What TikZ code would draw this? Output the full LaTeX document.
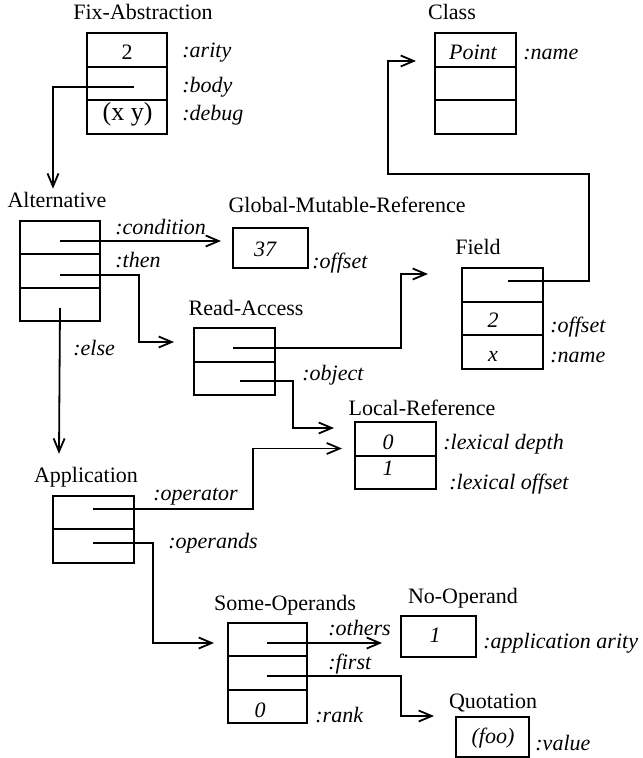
\documentclass[tikz,border=0pt]{standalone}
\usepackage{fontspec}
\setmainfont{Liberation Serif}
\usetikzlibrary{arrows.meta,calc}
\begin{document}
\begin{tikzpicture}[x=0.5pt,y=-0.5pt,
  every node/.style={font=\fontsize{11pt}{13pt}\selectfont},
  cell/.style={draw,line width=1pt,inner sep=0pt,minimum height=16.75pt},
  title/.style={anchor=base,inner sep=0pt},
  val/.style={anchor=base,inner sep=0pt,font=\fontsize{11pt}{13pt}\selectfont\itshape},
  uval/.style={anchor=base,inner sep=0pt},
  slot/.style={anchor=base west,inner sep=0pt,font=\fontsize{11pt}{13pt}\selectfont\itshape},
  ptr/.style={line width=0.9pt,-{Straight Barb[length=6.5pt,width=5.5pt,line width=0.9pt]}}
]
\useasboundingbox (0,0) rectangle (642,758);

% ---- Fix-Abstraction ----
\node[title] (fa-t) at (143,20) {Fix-Abstraction};
\node[cell,minimum width=40pt] (fa1) at (127,50) {};
\node[cell,minimum width=40pt] (fa2) at (127,83.5) {};
\node[cell,minimum width=40pt] (fa3) at (127,117) {};
\node[uval] (fa-v1) at (127,60) {2};
\node[uval,font=\fontsize{13pt}{15pt}\selectfont] (fa-v3) at (127.5,121) {(x y)};
\node[slot] (fa-l1) at (182,58) {:arity};
\node[slot] (fa-l2) at (182,93) {:body};
\node[slot] (fa-l3) at (182,121) {:debug};

% ---- Class ----
\node[title] (cls-t) at (452,20) {Class};
\node[cell,minimum width=40.5pt] (cls1) at (475.5,50) {};
\node[cell,minimum width=40.5pt] (cls2) at (475.5,83.5) {};
\node[cell,minimum width=40.5pt] (cls3) at (475.5,117) {};
\node[val] (cls-v1) at (473,60) {Point};
\node[slot] (cls-l1) at (523,60) {:name};

% ---- Alternative ----
\node[title] (alt-t) at (57,208) {Alternative};
\node[cell,minimum width=40pt] (alt1) at (60,237.5) {};
\node[cell,minimum width=40pt] (alt2) at (60,271) {};
\node[cell,minimum width=40pt] (alt3) at (60,304.5) {};
\node[slot] (alt-l1) at (115,235) {:condition};
\node[slot] (alt-l2) at (115,268) {:then};
\node[slot] (alt-l3) at (73,355) {:else};

% ---- Global-Mutable-Reference ----
\node[title] (glob-t) at (347,213) {Global-Mutable-Reference};
\node[cell,minimum width=37.5pt,minimum height=20pt] (glob) at (270.5,248) {};
\node[val] (glob-v) at (265,257) {37};
\node[slot] (glob-l) at (312,269) {:offset};

% ---- Read-Access ----
\node[title] (ra-t) at (246,315) {Read-Access};
\node[cell,minimum width=40.5pt] (ra1) at (234.5,345) {};
\node[cell,minimum width=40.5pt] (ra2) at (234.5,378.5) {};
\node[slot] (ra-l2) at (302,380) {:object};

% ---- Field ----
\node[title] (fld-t) at (478,255) {Field};
\node[cell,minimum width=40.5pt] (fld1) at (502.5,285) {};
\node[cell,minimum width=40.5pt] (fld2) at (502.5,318.5) {};
\node[cell,minimum width=40.5pt] (fld3) at (502.5,352) {};
\node[val] (fld-v2) at (493,328) {2};
\node[val] (fld-v3) at (493,361) {x};
\node[slot] (fld-l2) at (550,333) {:offset};
\node[slot] (fld-l3) at (550,362) {:name};

% ---- Local-Reference ----
\node[title] (loc-t) at (422,415) {Local-Reference};
\node[cell,minimum width=40.5pt] (loc1) at (395.5,439) {};
\node[cell,minimum width=40.5pt] (loc2) at (395.5,472.5) {};
\node[val] (loc-v1) at (388,449) {0};
\node[val] (loc-v2) at (388,475) {1};
\node[slot] (loc-l1) at (443,449) {:lexical depth};
\node[slot] (loc-l2) at (449,489) {:lexical offset};

% ---- Application ----
\node[title] (app-t) at (86,482) {Application};
\node[cell,minimum width=40.5pt] (app1) at (93.5,512.5) {};
\node[cell,minimum width=40.5pt] (app2) at (93.5,546) {};
\node[slot] (app-l1) at (153,500) {:operator};
\node[slot] (app-l2) at (168,548) {:operands};

% ---- Some-Operands ----
\node[title] (so-t) at (285,610) {Some-Operands};
\node[cell,minimum width=39.5pt] (so1) at (267.5,639.5) {};
\node[cell,minimum width=39.5pt] (so2) at (267.5,673) {};
\node[cell,minimum width=39.5pt] (so3) at (267.5,706.5) {};
\node[val] (so-v3) at (260,717) {0};
\node[slot] (so-l1) at (328,635) {:others};
\node[slot] (so-l2) at (328,669) {:first};
\node[slot] (so-l3) at (315,722) {:rank};

% ---- No-Operand ----
\node[title] (noop-t) at (463,603) {No-Operand};
\node[cell,minimum width=37.5pt,minimum height=20.5pt] (noop) at (438.5,636.5) {};
\node[val] (noop-v) at (435,642) {1};
\node[slot] (noop-l) at (483,648) {:application arity};

% ---- Quotation ----
\node[title] (quot-t) at (493,708) {Quotation};
\node[cell,minimum width=36.5pt,minimum height=20pt] (quot) at (492.5,737) {};
\node[val] (quot-v) at (493,743) {(foo)};
\node[slot] (quot-l) at (535,750) {:value};

% ---- pointers ----
\draw[ptr] ($(fa2.center)+(7,3.5)$) -| ($(alt1.north west)+(34,-31)$);
\draw[ptr] ($(fld1.center)+(5.5,-4)$) -| (589,174) -| (388,61) -- ($(cls1.west)+(-18,11)$);
\draw[ptr] ($(alt1.center)+(0,3.5)$) -- ($(glob.west)+(-11,-7)$);
\draw[ptr] ($(alt2.center)+(0,4)$) -| ($(ra1.west)+(-54,-3)$) -- ($(ra1.west)+(-19,-3)$);
\draw[ptr] ($(alt3.center)+(0,3.5)$) -- ($(app1.north west)+(7,-41)$);
\draw[ptr] ($(ra1.center)+(-1.5,3)$) -| ($(fld1.west)+(-60,-11)$) -- ($(fld1.west)+(-33,-11)$);
\draw[ptr] ($(ra2.center)+(5.5,2.5)$) -| ($(loc1.west)+(-61,-11)$) -- ($(loc1.west)+(-20,-11)$);
\draw[ptr] ($(app1.center)+(-0.5,-3.5)$) -| ($(loc1.west)+(-101,9.5)$) -- ($(loc1.west)+(-12,9.5)$);
\draw[ptr] ($(app2.center)+(-0.5,-3)$) -| ($(so1.west)+(-74,3.5)$) -- ($(so1.west)+(-13,3.5)$);
\draw[ptr] ($(so1.center)+(-0.5,3.5)$) -- ($(noop.west)+(-18,6.5)$);
\draw[ptr] ($(so2.center)+(-0.5,3)$) -| ($(quot.west)+(-54,-21)$) -- ($(quot.west)+(-21,-21)$);
\end{tikzpicture}
\end{document}
